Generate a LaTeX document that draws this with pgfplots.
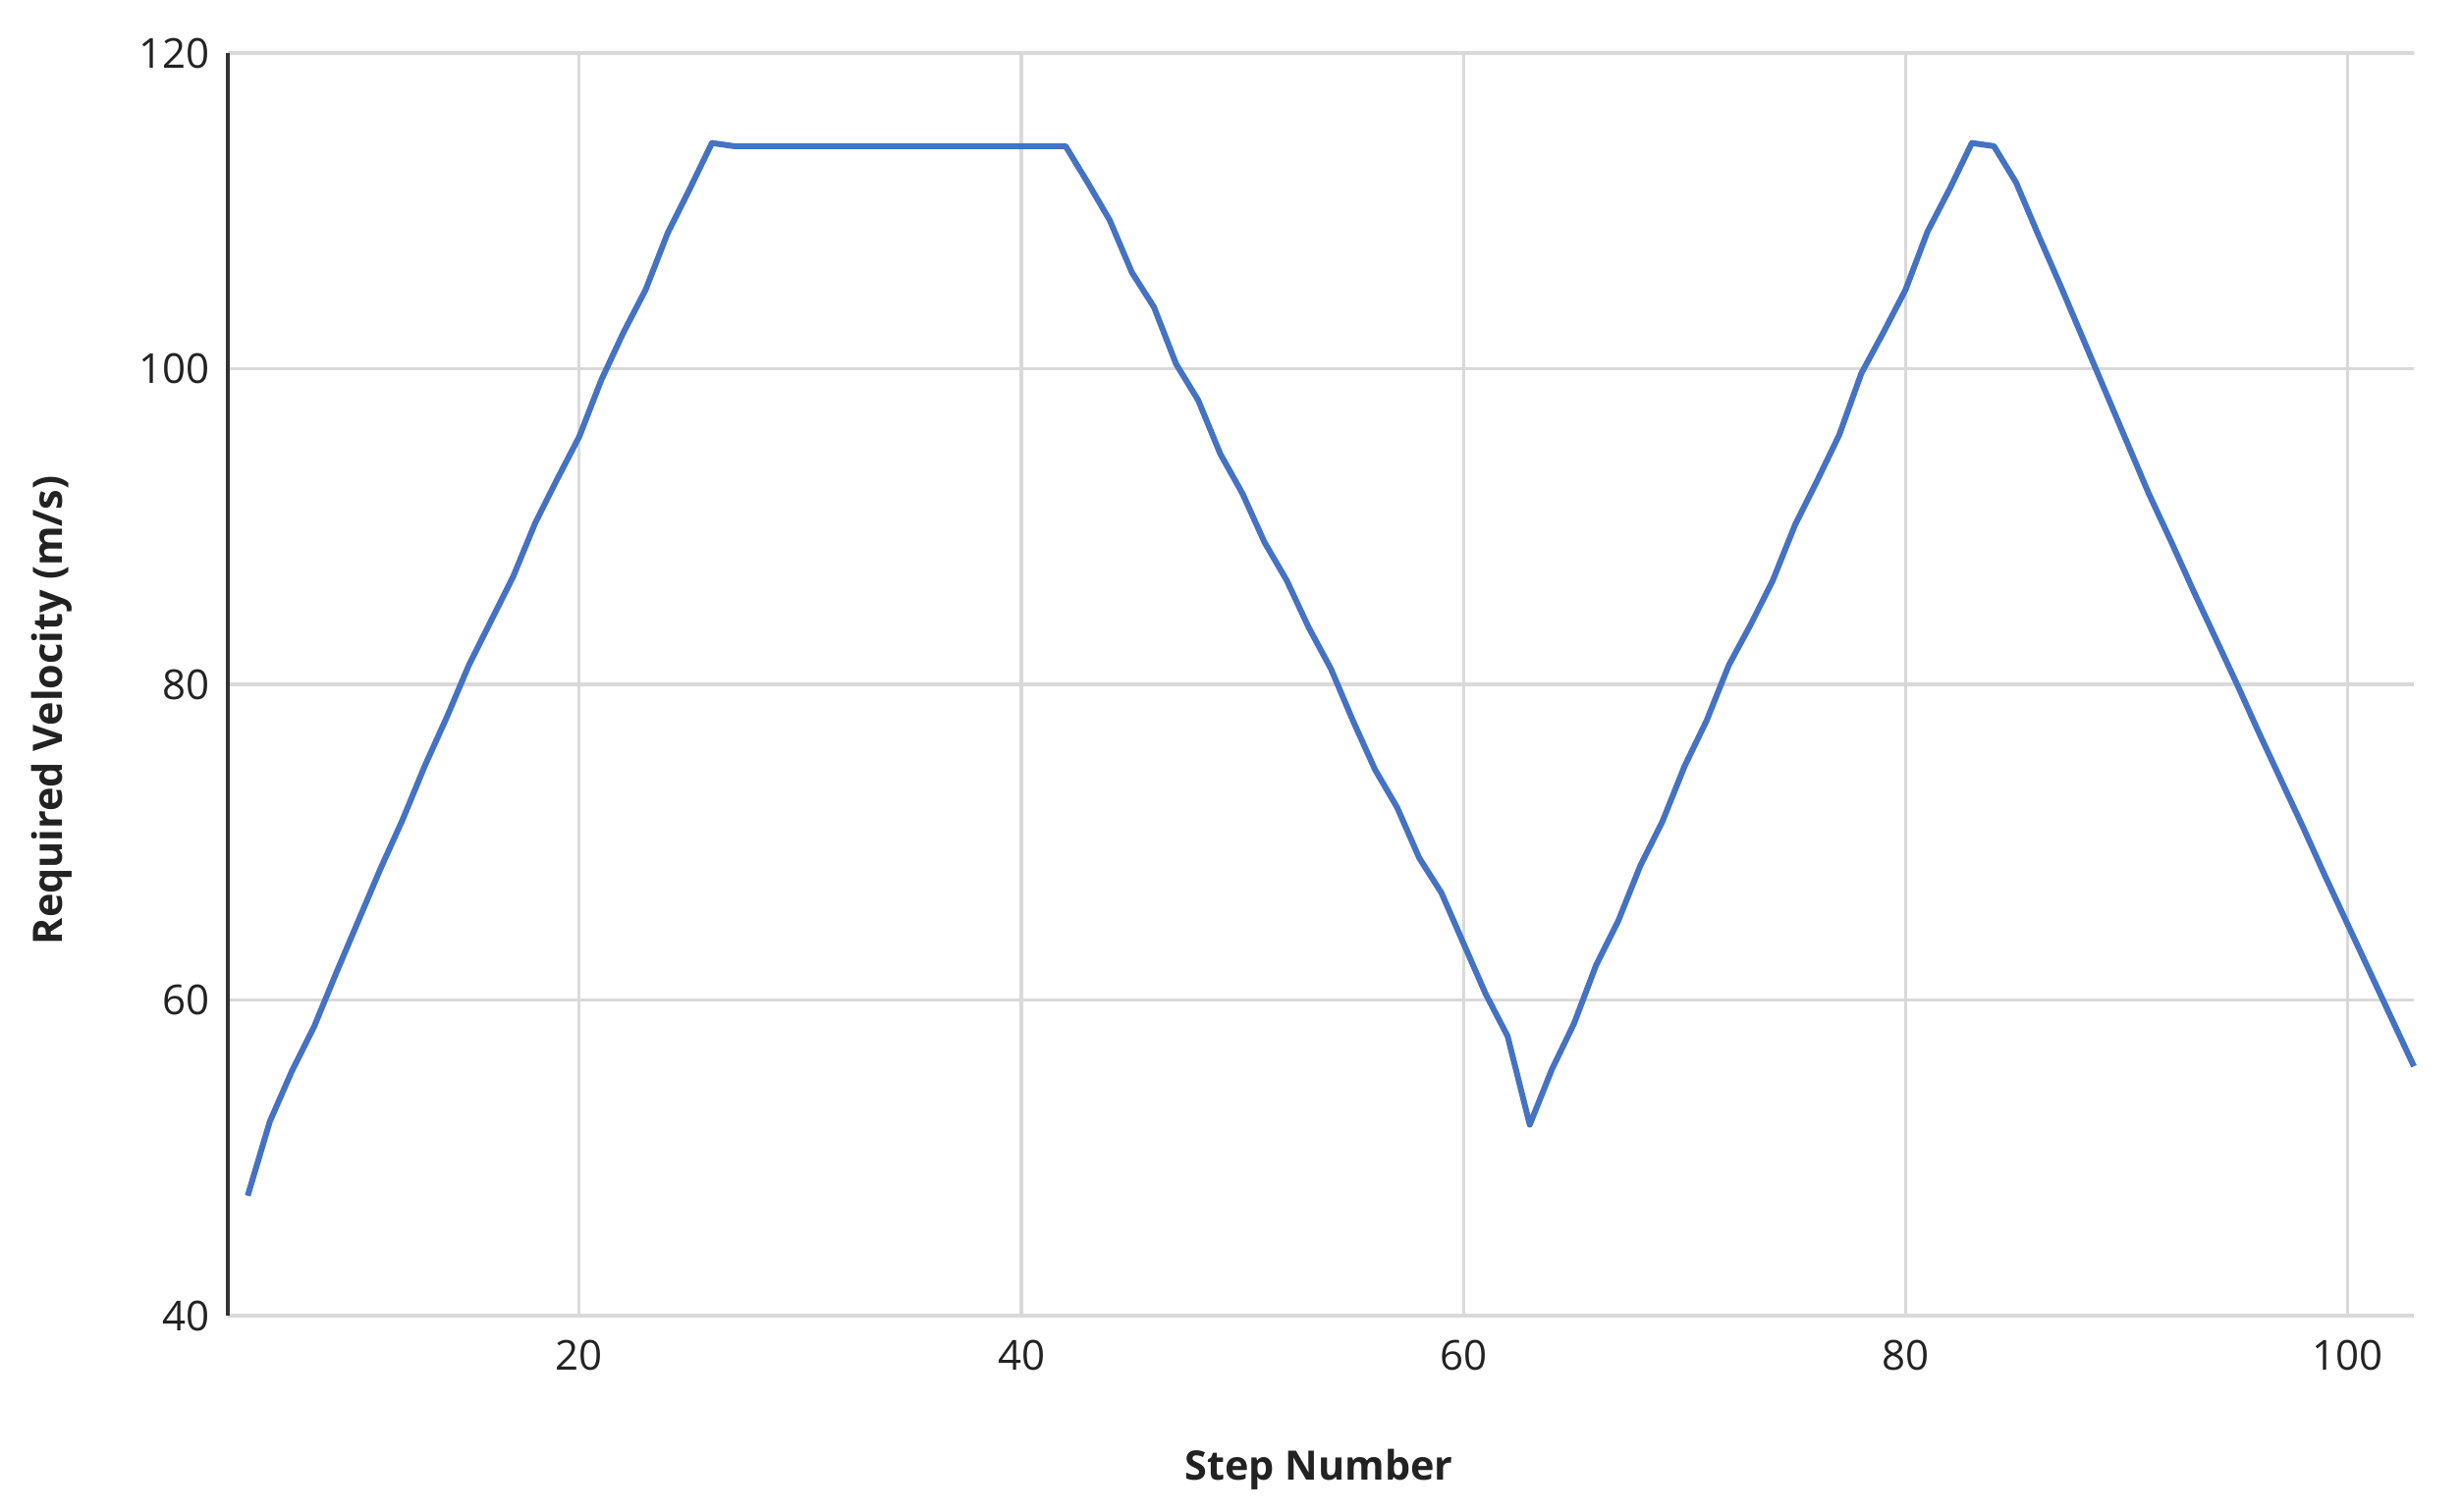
\documentclass[border=0pt]{standalone}
\usepackage{pgfplots}
\pgfplotsset{compat=1.18}
\usepackage{fontspec}
\setmainfont{Open Sans}
\definecolor{lineblue}{HTML}{4472C4}
\definecolor{gridgray}{HTML}{D9D9D9}
\definecolor{axisdark}{HTML}{333333}
\definecolor{txt}{HTML}{222222}
\pgfplotstableread{
x y
5 47.6
6 52.3
7 55.5
8 58.3
9 61.7
10 65.0
11 68.3
12 71.4
13 74.8
14 77.9
15 81.2
16 84.0
17 86.8
18 90.2
19 93.0
20 95.7
21 99.3
22 102.3
23 105.0
24 108.6
25 111.4
26 114.3
27 114.1
28 114.1
29 114.1
30 114.1
31 114.1
32 114.1
33 114.1
34 114.1
35 114.1
36 114.1
37 114.1
38 114.1
39 114.1
40 114.1
41 114.1
42 114.1
43 111.8
44 109.4
45 106.1
46 103.9
47 100.3
48 98.0
49 94.6
50 92.1
51 89.0
52 86.6
53 83.6
54 81.0
55 77.7
56 74.6
57 72.2
58 69.0
59 66.8
60 63.6
61 60.4
62 57.7
63 52.1
64 55.6
65 58.5
66 62.2
67 65.0
68 68.5
69 71.3
70 74.8
71 77.7
72 81.2
73 83.8
74 86.6
75 90.1
76 92.9
77 95.8
78 99.7
79 102.3
80 105.0
81 108.7
82 111.4
83 114.3
84 114.1
85 111.8
86 108.5
87 105.3
88 102.0
89 98.7
90 95.4
91 92.1
92 89.1
93 86.0
94 83.0
95 80.0
96 76.9
97 73.9
98 70.9
99 67.8
100 64.8
101 61.8
102 58.8
103 55.8
}\datatable
\begin{document}
\begin{tikzpicture}
\begin{axis}[
  at={(0,0)}, anchor=south west,
  scale only axis,
  width=667.8pt, height=385.8pt,
  xmin=4.1, xmax=103, ymin=40, ymax=120,
  xtick={20,40,60,80,100},
  ytick={40,60,80,100,120},
  axis line style={draw=none},
  major tick length=0pt,
  grid=major,
  major grid style={draw=gridgray, line width=0.95pt},
  tick label style={font=\fontsize{12.6}{14}\selectfont, text=txt},
  /pgf/number format/assume math mode=true,
  xticklabel style={yshift=-4pt},
  yticklabel style={xshift=-2pt},
  clip=false,
]
\addplot[color=lineblue, line width=1.8pt, line join=round] table[x=x, y=y] {\datatable};
\end{axis}
\draw[axisdark, line width=0.95pt] (0,0) -- (0,385.8pt);
\node[font=\bfseries\fontsize{12.4}{14}\selectfont, text=txt, rotate=90] at (-53.7pt,185pt) {Required Velocity (m/s)};
\node[font=\bfseries\fontsize{12.4}{14}\selectfont, text=txt] at (333.3pt,-47.1pt) {Step Number};
\pgfresetboundingbox
\path[use as bounding box] (-69.6pt,-59.7pt) rectangle (682.5pt,402pt);
\end{tikzpicture}
\end{document}
